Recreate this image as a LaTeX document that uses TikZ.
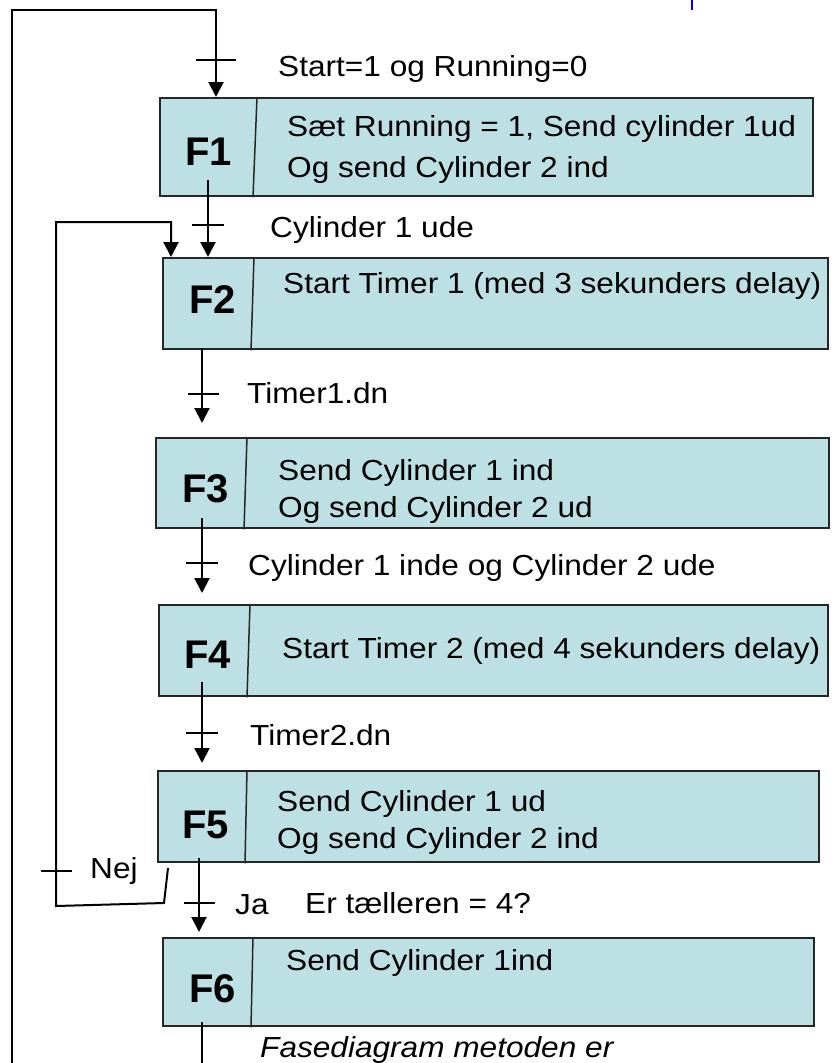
\documentclass[tikz,border=0pt]{standalone}
\usepackage{fontspec}
\setmainfont{Liberation Sans}[FakeStretch=1.09]
\newfontfamily\lblfont{Liberation Sans}
\usetikzlibrary{arrows.meta,calc}
\definecolor{phasefill}{RGB}{188,224,227}
\begin{document}
\begin{tikzpicture}[x=1pt,y=-1pt,
  phasebox/.style={draw=black!85,line width=2.4pt,fill=phasefill,rectangle,inner sep=0pt,anchor=north west},
  divider/.style={draw=black!85,line width=1.5pt},
  conn/.style={line width=2pt},
  arr/.style={conn,-{Triangle[width=15pt,length=15pt]}},
  tickmark/.style={line width=1.7pt},
  txt/.style={anchor=base west,inner sep=0pt,font=\fontsize{29}{34}\selectfont},
  lbl/.style={anchor=base west,inner sep=0pt,font=\lblfont\bfseries\fontsize{40}{46}\selectfont},
]
\useasboundingbox[fill=white] (0,0) rectangle (835,1063);

% phase boxes
\node[phasebox,minimum width=653pt,minimum height=98pt] (F1) at (159,97) {};
\node[phasebox,minimum width=665pt,minimum height=91pt] (F2) at (162,257) {};
\node[phasebox,minimum width=673pt,minimum height=90pt] (F3) at (155,437) {};
\node[phasebox,minimum width=669pt,minimum height=91pt] (F4) at (158,604) {};
\node[phasebox,minimum width=661pt,minimum height=91pt] (F5) at (157,770) {};
\node[phasebox,minimum width=651pt,minimum height=88pt] (F6) at (162,937) {};

% slanted dividers between phase number and action
\draw[divider] ($(F1.north west)+(98,0)$) -- ($(F1.south west)+(94,0)$);
\draw[divider] ($(F2.north west)+(92,0)$) -- ($(F2.south west)+(89,0)$);
\draw[divider] ($(F3.north west)+(92,0)$) -- ($(F3.south west)+(89,0)$);
\draw[divider] ($(F4.north west)+(92,0)$) -- ($(F4.south west)+(89,0)$);
\draw[divider] ($(F5.north west)+(90,0)$) -- ($(F5.south west)+(88,0)$);
\draw[divider] ($(F6.north west)+(91,0)$) -- ($(F6.south west)+(89,0)$);

% phase numbers
\node[lbl] (L1) at (185,165) {F1};
\node[lbl] (L2) at (189,313) {F2};
\node[lbl] (L3) at (182,502) {F3};
\node[lbl] (L4) at (184,668) {F4};
\node[lbl] (L5) at (182,838) {F5};
\node[lbl] (L6) at (189,1002) {F6};

% actions
\node[txt] (A1a) at (287,136) {Sæt Running = 1, Send cylinder 1ud};
\node[txt] (A1b) at (287,177) {Og send Cylinder 2 ind};
\node[txt] (A2) at (283,293) {Start Timer 1 (med 3 sekunders delay)};
\node[txt] (A3a) at (278,480) {Send Cylinder 1 ind};
\node[txt] (A3b) at (278,517) {Og send Cylinder 2 ud};
\node[txt] (A4) at (282,658) {Start Timer 2 (med 4 sekunders delay)};
\node[txt] (A5a) at (277,811) {Send Cylinder 1 ud};
\node[txt] (A5b) at (277,848) {Og send Cylinder 2 ind};
\node[txt] (A6) at (286,970) {Send Cylinder 1ind};

% transition conditions
\node[txt] (T0) at (278,76) {Start=1 og Running=0};
\node[txt] (T1) at (270,237) {Cylinder 1 ude};
\node[txt] (T2) at (247,403) {Timer1.dn};
\node[txt] (T3) at (248,575) {Cylinder 1 inde og Cylinder 2 ude};
\node[txt] (T4) at (250,745) {Timer2.dn};
\node[txt] (T5) at (305,913) {Er tælleren = 4?};
\node[txt] (Ja) at (235,914) {Ja};
\node[txt] (Nej) at (90,878) {Nej};
\node[txt,font=\itshape\fontsize{29}{34}\selectfont] (Note) at (260,1057) {Fasediagram metoden er};

% outer return loop into F1
\coordinate (loopEnd) at (12,1063);
\coordinate (topL) at (12,10);
\coordinate (topR) at (216,10);
\draw[arr] (loopEnd) -- (topL) -- (topR) -- (topR |- F1.north);
\draw[tickmark] (196,60) -- (236,60);

% F1 -> F2
\coordinate (c12) at (208,180);
\draw[arr] (c12) -- (c12 |- F2.north);
\draw[tickmark] (192,225) -- (224,225);

% counter not reached: back to F2
\coordinate (n1) at (168,868);
\coordinate (n2) at (164,903);
\coordinate (n3) at (56,906);
\coordinate (n4) at (56,222);
\coordinate (n5) at (171,222);
\draw[arr] (n1) -- (n2) -- (n3) -- (n4) -- (n5) -- (n5 |- F2.north);
\draw[tickmark] (41,871) -- (72,871);

% F2 -> F3
\coordinate (c23) at (202,348);
\draw[arr] (c23) -- ($(c23 |- F3.north)+(0,-14)$);
\draw[tickmark] (188,394) -- (219,394);

% F3 -> F4
\coordinate (c34) at (202,518);
\draw[arr] (c34) -- ($(c34 |- F4.north)+(0,-11)$);
\draw[tickmark] (186,563) -- (218,563);

% F4 -> F5
\coordinate (c45) at (202,682);
\draw[arr] (c45) -- ($(c45 |- F5.north)+(0,-7)$);
\draw[tickmark] (186,733) -- (218,733);

% F5 -> F6
\coordinate (c56) at (199,858);
\draw[arr] (c56) -- ($(c56 |- F6.north)+(0,-5)$);
\draw[tickmark] (184,903) -- (215,903);

% F6 onwards
\coordinate (c6) at (202,1022);
\coordinate (c6end) at (202,1063);
\draw[conn] (c6) -- (c6end);

% small blue mark at the top edge
\draw[blue,line width=1.5pt] (692,0) -- (692,10);
\end{tikzpicture}
\end{document}
